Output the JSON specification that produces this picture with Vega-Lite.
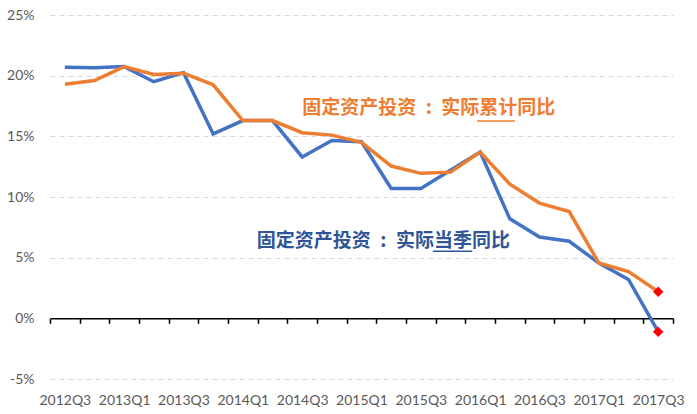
{
  "$schema": "https://vega.github.io/schema/vega-lite/v6.json",
  "width": 623,
  "height": 364,
  "autosize": {"type": "none"},
  "padding": {"left": 50, "top": 15, "right": 24, "bottom": 35},
  "config": {"view": {"stroke": null}, "font": "Lato"},
  "datasets": {
    "series": [
      {"q": "2012Q3", "series": "当季", "value": 20.7},
      {"q": "2012Q4", "series": "当季", "value": 20.65},
      {"q": "2013Q1", "series": "当季", "value": 20.75},
      {"q": "2013Q2", "series": "当季", "value": 19.5},
      {"q": "2013Q3", "series": "当季", "value": 20.25},
      {"q": "2013Q4", "series": "当季", "value": 15.2},
      {"q": "2014Q1", "series": "当季", "value": 16.3},
      {"q": "2014Q2", "series": "当季", "value": 16.3},
      {"q": "2014Q3", "series": "当季", "value": 13.3},
      {"q": "2014Q4", "series": "当季", "value": 14.65},
      {"q": "2015Q1", "series": "当季", "value": 14.55},
      {"q": "2015Q2", "series": "当季", "value": 10.7},
      {"q": "2015Q3", "series": "当季", "value": 10.7},
      {"q": "2015Q4", "series": "当季", "value": 12.2},
      {"q": "2016Q1", "series": "当季", "value": 13.7},
      {"q": "2016Q2", "series": "当季", "value": 8.2},
      {"q": "2016Q3", "series": "当季", "value": 6.7},
      {"q": "2016Q4", "series": "当季", "value": 6.35},
      {"q": "2017Q1", "series": "当季", "value": 4.56},
      {"q": "2017Q2", "series": "当季", "value": 3.2},
      {"q": "2017Q3", "series": "当季", "value": -1.1},
      {"q": "2012Q3", "series": "累计", "value": 19.3},
      {"q": "2012Q4", "series": "累计", "value": 19.6},
      {"q": "2013Q1", "series": "累计", "value": 20.75},
      {"q": "2013Q2", "series": "累计", "value": 20.1},
      {"q": "2013Q3", "series": "累计", "value": 20.2},
      {"q": "2013Q4", "series": "累计", "value": 19.25},
      {"q": "2014Q1", "series": "累计", "value": 16.3},
      {"q": "2014Q2", "series": "累计", "value": 16.3},
      {"q": "2014Q3", "series": "累计", "value": 15.3},
      {"q": "2014Q4", "series": "累计", "value": 15.1},
      {"q": "2015Q1", "series": "累计", "value": 14.5},
      {"q": "2015Q2", "series": "累计", "value": 12.55},
      {"q": "2015Q3", "series": "累计", "value": 11.95},
      {"q": "2015Q4", "series": "累计", "value": 12.05},
      {"q": "2016Q1", "series": "累计", "value": 13.7},
      {"q": "2016Q2", "series": "累计", "value": 11.05},
      {"q": "2016Q3", "series": "累计", "value": 9.5},
      {"q": "2016Q4", "series": "累计", "value": 8.8},
      {"q": "2017Q1", "series": "累计", "value": 4.56},
      {"q": "2017Q2", "series": "累计", "value": 3.85},
      {"q": "2017Q3", "series": "累计", "value": 2.2}
    ]
  },
  "layer": [
    {
      "data": {"name": "series"},
      "mark": {"type": "line", "strokeWidth": 3.5, "strokeJoin": "miter"},
      "encoding": {
        "x": {
          "field": "q",
          "type": "ordinal",
          "scale": {"paddingInner": 0, "paddingOuter": 0},
          "axis": {
            "title": null,
            "offset": -60.67,
            "domainColor": "#000000",
            "domainWidth": 1.5,
            "ticks": true,
            "tickBand": "extent",
            "tickColor": "#000000",
            "tickWidth": 1.5,
            "tickSize": 5,
            "labelAngle": 0,
            "labelOverlap": false,
            "labelPadding": 70,
            "labelFontSize": 14,
            "labelColor": "#595959",
            "labelExpr": "test(/Q[13]$/, datum.value) ? datum.value : ''",
            "grid": false
          }
        },
        "y": {
          "field": "value",
          "type": "quantitative",
          "scale": {"domain": [-5, 25], "nice": false, "zero": false},
          "axis": {
            "title": null,
            "values": [-5, 0, 5, 10, 15, 20, 25],
            "labelExpr": "datum.value + '%'",
            "domain": false,
            "ticks": false,
            "labelPadding": 16,
            "labelFontSize": 14,
            "labelColor": "#595959",
            "grid": true,
            "gridColor": "#d9d9d9",
            "gridDash": [5, 4],
            "gridWidth": 1
          }
        },
        "color": {
          "field": "series",
          "type": "nominal",
          "scale": {"domain": ["当季", "累计"], "range": ["#4472C4", "#ED7D31"]},
          "legend": null
        }
      }
    },
    {
      "data": {"name": "series"},
      "transform": [{"filter": "datum.q == '2017Q3'"}],
      "mark": {"type": "point", "shape": "diamond", "filled": true, "color": "#FF0000", "opacity": 1, "size": 110},
      "encoding": {
        "x": {"field": "q", "type": "ordinal"},
        "y": {"field": "value", "type": "quantitative"}
      }
    },
    {
      "data": {"values": [{"q": "2014Q3", "value": 17.3, "label": "固定资产投资\u2002:\u2002实际累计同比"}]},
      "mark": {"type": "text", "align": "left", "baseline": "middle", "font": "Noto Sans CJK SC", "fontSize": 19, "fontWeight": "bold", "color": "#ED7D31"},
      "encoding": {
        "x": {"field": "q", "type": "ordinal"},
        "y": {"field": "value", "type": "quantitative"},
        "text": {"field": "label"}
      }
    },
    {
      "data": {"values": [{"q": "2014Q1", "value": 6.4, "label": "固定资产投资\u2002:\u2002实际当季同比"}]},
      "mark": {"type": "text", "align": "left", "baseline": "middle", "dx": 14, "font": "Noto Sans CJK SC", "fontSize": 19, "fontWeight": "bold", "color": "#2F5597"},
      "encoding": {
        "x": {"field": "q", "type": "ordinal"},
        "y": {"field": "value", "type": "quantitative"},
        "text": {"field": "label"}
      }
    },
    {
      "data": {"values": [{"q": "2016Q1", "q2": "2016Q2", "value": 16.27}]},
      "mark": {"type": "rule", "color": "#ED7D31", "strokeWidth": 1.5, "xOffset": -3, "x2Offset": 5},
      "encoding": {
        "x": {"field": "q", "type": "ordinal"},
        "x2": {"field": "q2"},
        "y": {"field": "value", "type": "quantitative"}
      }
    },
    {
      "data": {"values": [{"q": "2015Q3", "q2": "2016Q1", "value": 5.52}]},
      "mark": {"type": "rule", "color": "#2F5597", "strokeWidth": 1.5, "xOffset": 12, "x2Offset": -8},
      "encoding": {
        "x": {"field": "q", "type": "ordinal"},
        "x2": {"field": "q2"},
        "y": {"field": "value", "type": "quantitative"}
      }
    }
  ]
}
